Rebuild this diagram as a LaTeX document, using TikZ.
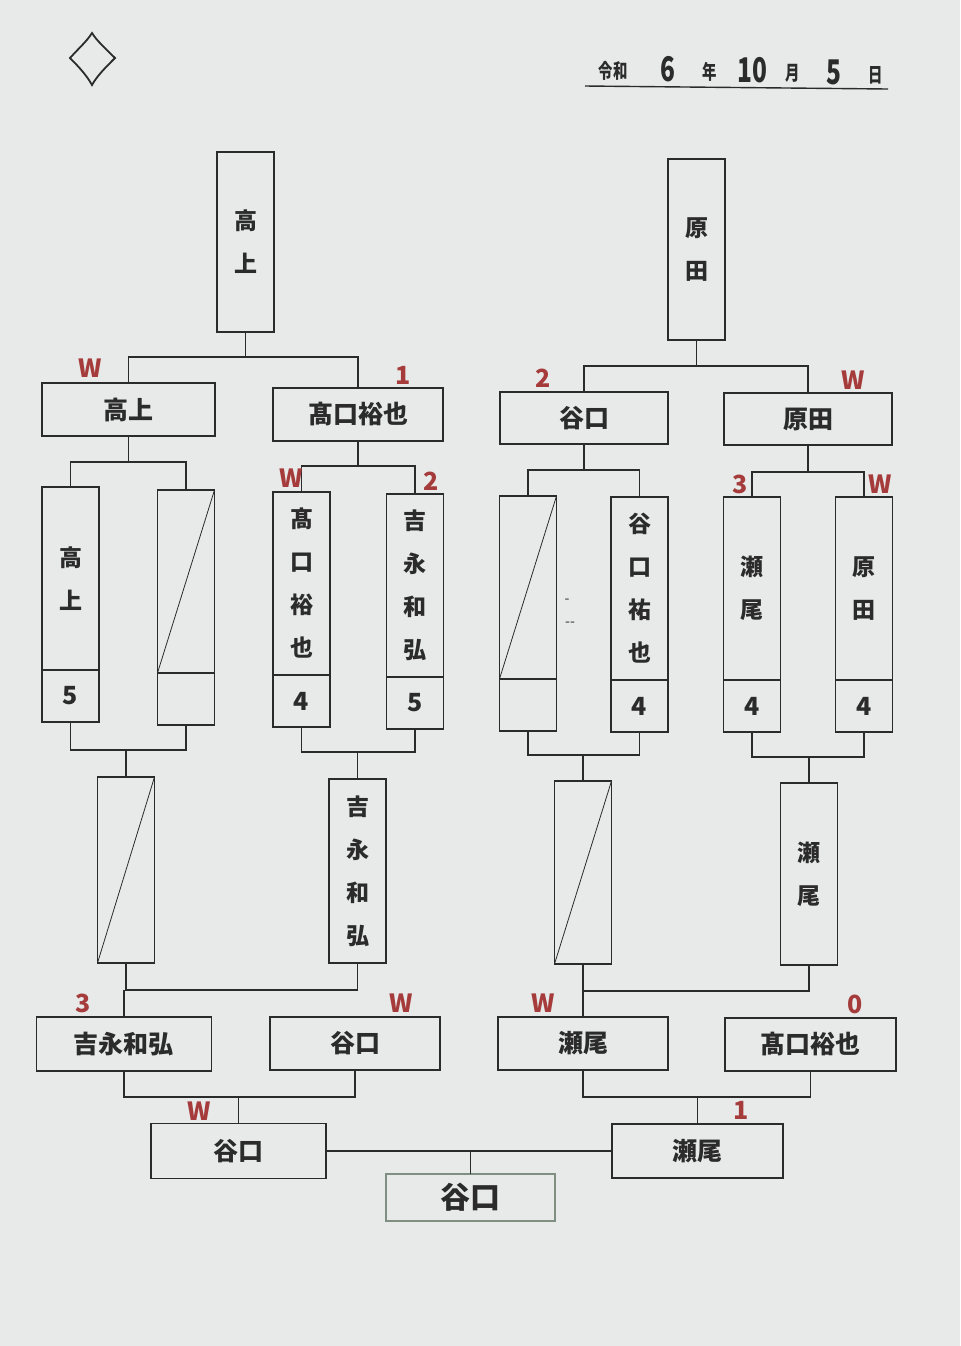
\documentclass[tikz,border=0pt]{standalone}
\usepackage{fontspec}
\setmainfont{Noto Sans CJK JP}
\newfontfamily\datefont[FakeStretch=0.72]{Noto Sans CJK JP}
\usetikzlibrary{positioning}
\definecolor{markRed}{HTML}{A53B3B}
\definecolor{lineGray}{HTML}{2B2B2B}
\definecolor{paperGray}{HTML}{E8E9E9}
\definecolor{finalGreen}{HTML}{7F8F82}

\begin{document}
\begin{tikzpicture}[x=0.5pt, y=-0.5pt, line width=0.7pt, color=lineGray,
    hbox/.style={draw, outer sep=0pt, minimum width=85pt, minimum height=26.5pt, inner sep=0pt, font=\bfseries\fontsize{12.5}{15}\selectfont},
    vname/.style={draw, outer sep=0pt, anchor=north, minimum width=28.5pt, minimum height=91.5pt, inner sep=0pt, align=center, font=\bfseries\fontsize{11.5}{21.5}\selectfont},
    sc/.style={draw, outer sep=0pt, minimum width=28.5pt, minimum height=26pt, inner sep=0pt, font=\bfseries\fontsize{12.5}{15}\selectfont},
    res/.style={text=markRed, inner sep=0pt, font=\bfseries\fontsize{12.5}{15}\selectfont}]
    \useasboundingbox (0,0) rectangle (960,1346);
    \fill[paperGray] (0,0) rectangle (960,1346);

    % header
    \draw[line width=0.9pt, line join=miter] (70,58) .. controls (80,47) and (87,41) .. (92,33)
        .. controls (97,41) and (105,48) .. (115,58) .. controls (105,68) and (97,76) .. (92,85)
        .. controls (87,76) and (80,68) .. (70,58) -- cycle;
    \foreach \t/\x/\y/\f [count=\i] in {令和/613/71/10, 6/668/69/17, 年/710/72/10, 10/752/70/17, 月/793/73/10, 5/834/72/17, 日/876/75/10}
        \node[inner sep=0pt, font=\datefont\bfseries\fontsize{\f}{\f}\selectfont] (d\i) at (\x,\y) {\t};
    \draw (585,86) -- (888,89);

    % left half
    \node[vname, minimum height=90pt] (t1) at (245.5,152) {高\\上};
    \node[hbox, minimum width=86.5pt] (q1) at (128.5,409.5) {高上};
    \node[hbox] (q2) at (358,414.5) {髙口裕也};
    \node[vname] (r1) at (70.5,487) {高\\上};
    \node[sc, below=0pt of r1] (r1s) {5};
    \node[vname] (r2) at (186,490) {};
    \node[sc, below=0pt of r2] (r2s) {};
    \node[vname] (r3) at (301.5,492) {髙\\口\\裕\\也};
    \node[sc, below=0pt of r3] (r3s) {4};
    \node[vname] (r4) at (415,494) {吉\\永\\和\\弘};
    \node[sc, below=0pt of r4] (r4s) {5};
    \node[vname, minimum height=93pt] (s1) at (126,777) {};
    \node[vname, minimum height=92pt] (s2) at (357.5,779) {吉\\永\\和\\弘};
    \node[hbox, minimum width=87.5pt, minimum height=27pt] (u1) at (124,1044) {吉永和弘};
    \node[hbox] (u2) at (355,1043.5) {谷口};
    \node[hbox, minimum width=87.5pt, minimum height=27.5pt] (v1) at (238.5,1151) {谷口};

    % right half
    \node[vname, minimum height=90.5pt] (t2) at (696.5,159) {原\\田};
    \node[hbox, minimum width=84pt, minimum height=26pt] (q3) at (584,418) {谷口};
    \node[hbox, minimum width=84pt, minimum height=26pt] (q4) at (808,419) {原田};
    \node[vname] (r5) at (528,496) {};
    \node[sc, below=0pt of r5] (r5s) {};
    \node[vname] (r6) at (639.5,497) {谷\\口\\祐\\也};
    \node[sc, below=0pt of r6] (r6s) {4};
    \node[vname] (r7) at (752,497) {瀬\\尾};
    \node[sc, below=0pt of r7] (r7s) {4};
    \node[vname] (r8) at (864,497) {原\\田};
    \node[sc, below=0pt of r8] (r8s) {4};
    \node[vname] (s3) at (583,781) {};
    \node[vname, minimum height=91pt] (s4) at (809,783) {瀬\\尾};
    \node[hbox] (u3) at (583,1043.5) {瀬尾};
    \node[hbox, minimum width=85.5pt] (u4) at (810.5,1044.5) {髙口裕也};
    \node[hbox, minimum width=85.5pt, minimum height=27pt] (v2) at (697.5,1151) {瀬尾};
    \node[hbox, draw=finalGreen, minimum width=84.5pt, minimum height=23.5pt, font=\bfseries\fontsize{15}{18}\selectfont] (w) at (470.5,1197.5) {谷口};
    \node[inner sep=0pt, font=\fontsize{7}{7}\selectfont] (k1) at (567,601) {-};
    \node[inner sep=0pt, font=\fontsize{7}{7}\selectfont] (k2) at (570,624) {-{}-};

    % byes
    \foreach \n in {r2,r5,s1,s3}
        \draw[line width=0.4pt] (\n.south west) -- (\n.north east);

    % brackets
    \foreach \p/\a/\b/\y in {t1/q1/q2/357, q1/r1/r2/462, q2/r3/r4/466, t2/q3/q4/366, q3/r5/r6/470, q4/r7/r8/472} {
        \draw (\p.south) -- (\p.south |- 0,\y);
        \draw (\a.north) |- (\b.north |- 0,\y) -- (\b.north);
    }
    \foreach \p/\a/\b/\y in {s1/r1s/r2s/750, s2/r3s/r4s/752, s3/r5s/r6s/755, s4/r7s/r8s/757, u1/s1/s2/990, u3/s3/s4/991, v1/u1/u2/1097, v2/u3/u4/1097} {
        \draw (\p.north) -- (\p.north |- 0,\y);
        \draw (\a.south) |- (\b.south |- 0,\y) -- (\b.south);
    }
    \draw (v1.east) -- (v2.west);
    \draw (w.north) -- (w.north |- v1.east);

    % results
    \foreach \t/\x/\y [count=\i] in {W/90/368, 1/403/375, W/291/478, 2/431/481, 3/83/1003, W/401/1003, W/199/1111, 2/543/378, W/853/380, 3/740/484, W/880/484, W/543/1003, 0/855/1004, 1/741/1110}
        \node[res] (m\i) at (\x,\y) {\t};
\end{tikzpicture}
\end{document}
